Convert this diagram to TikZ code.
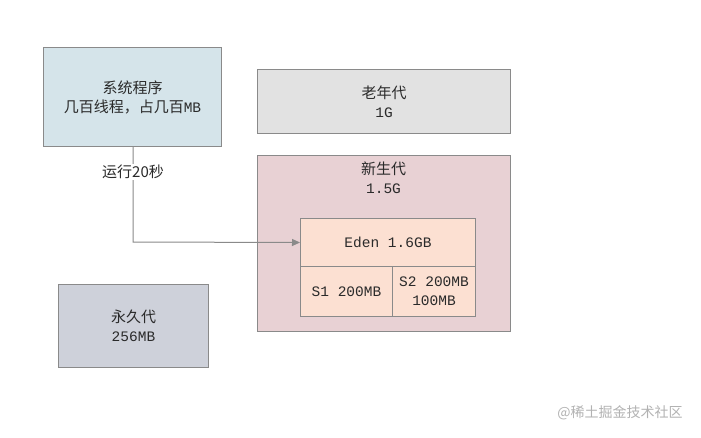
\documentclass[tikz,border=0pt]{standalone}
\usepackage{fontspec}
\setmainfont{Noto Sans CJK SC}
\newfontfamily\latf{Liberation Mono}
\newcommand\lat{\latf\fontsize{14.5}{19}\selectfont}
\usetikzlibrary{arrows.meta}
\definecolor{sysfill}{HTML}{D5E4EA}
\definecolor{oldfill}{HTML}{E2E2E2}
\definecolor{newfill}{HTML}{E8D1D4}
\definecolor{edenfill}{HTML}{FCE0D2}
\definecolor{permfill}{HTML}{CED1DA}
\definecolor{edge}{HTML}{8A8A8A}
\definecolor{txt}{HTML}{2A2A2A}
\tikzset{
  box/.style={draw=edge, line width=1pt, anchor=north west, inner sep=0pt, align=center, text=txt, font=\fontsize{15}{19}\selectfont},
  conn/.style={draw=edge, line width=1pt, -{Triangle[length=8pt,width=7pt]}}
}
\begin{document}
\begin{tikzpicture}[x=1pt,y=-1pt]
\useasboundingbox (0,0) rectangle (701,437);
\fill[white] (0,0) rectangle (701,437);
\node[box, fill=sysfill, minimum width=178pt, minimum height=99pt] (sys) at (43,47) {系统程序\\几百线程，占几百{\lat MB}};
\node[box, fill=oldfill, minimum width=253pt, minimum height=64pt] (old) at (257,69) {老年代\\{\lat 1G}};
\node[box, fill=newfill, minimum width=253pt, minimum height=176pt] (new) at (257,155) {};
\node[align=center, text=txt, font=\fontsize{15}{19}\selectfont, anchor=north, inner sep=0pt] (newlbl) at (383.5,162) {新生代\\{\lat 1.5G}};
\node[box, fill=edenfill, minimum width=175pt, minimum height=48pt] (eden) at (300,218) {{\lat Eden 1.6GB}};
\node[box, fill=edenfill, minimum width=92pt, minimum height=50pt] (s1) at (300,266) {{\lat S1 200MB}};
\node[box, fill=edenfill, minimum width=83pt, minimum height=50pt] (s2) at (392,266) {{\lat S2 200MB}\\{\lat 100MB}};
\node[box, fill=permfill, minimum width=150pt, minimum height=83pt] (perm) at (58,284) {永久代\\{\lat 256MB}};
\coordinate (bend) at (133,242);
\draw[conn] (sys.south -| bend) -- (bend) -- (eden.west);
\node[fill=white, text=txt, inner sep=1pt, font=\fontsize{15}{17}\selectfont] (lbl) at (133,172) {运行20秒};
\node[text=gray!60, font=\fontsize{14}{16}\selectfont] (wm) at (620,413) {@稀土掘金技术社区};
\end{tikzpicture}
\end{document}
